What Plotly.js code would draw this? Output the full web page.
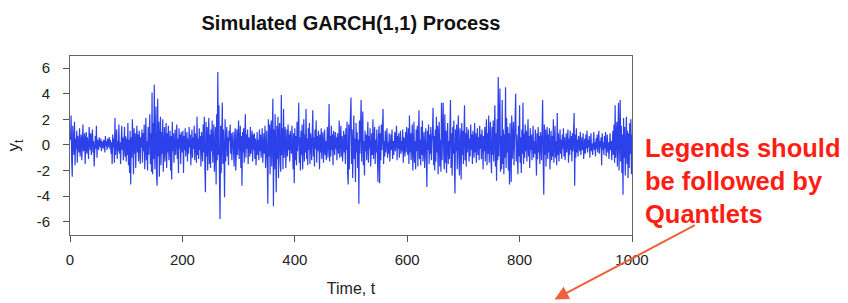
<!DOCTYPE html>
<html>
<head>
<meta charset="utf-8">
<script src="https://cdn.plot.ly/plotly-3.0.1.min.js"></script>
<style>html,body{margin:0;padding:0;background:#fff;}#chart{width:848px;height:303px;}</style>
</head>
<body>
<div id="chart"></div>
<script>
// Simulated GARCH(1,1) series y_t, t = 1..1000 (values read/estimated from the picture)
var yValues = [
0.4,2.3,-1.2,-2.5,1.5,0.2,-0.8,1.8,-1.6,0.5,
-0.3,1.1,-1.4,0.7,0.2,-0.6,1.3,-0.9,0.1,0.8,
-1.2,0.4,1.6,-0.5,-0.2,0.9,-1.5,0.3,1.0,-0.7,
0.6,-0.1,-1.1,1.4,0.2,-0.4,0.9,-0.8,0.5,1.2,
-0.6,0.3,-1.7,0.1,0.7,-0.3,1.5,-1.0,0.4,0.2,
-0.4,0.6,0.1,-0.2,0.5,-0.5,0.3,0.0,-0.3,0.4,
0.2,-0.6,0.7,-0.1,0.3,-0.4,0.5,-0.2,0.1,0.6,
-0.3,0.4,-0.7,0.2,-1.5,0.8,-0.2,0.5,-1.4,2.1,
-0.8,0.4,1.2,-1.1,0.3,-0.5,1.6,-0.7,0.2,-1.5,
0.9,1.5,-0.4,0.6,-1.2,0.3,1.4,-0.9,0.7,-1.3,
0.5,-0.8,1.7,-1.6,0.4,-2.2,1.1,-3.1,0.6,-1.0,
2.0,0.3,-2.3,1.3,-0.7,0.9,-1.8,0.2,1.5,-0.6,
0.8,-1.3,1.1,0.4,-1.5,0.6,-0.2,1.2,-1.4,0.9,
-0.5,1.6,-1.9,0.7,2.1,-1.2,0.3,-2.0,1.4,-0.8,
0.6,2.4,-1.5,0.9,-2.1,4.1,-2.3,1.7,-1.1,4.7,
-1.9,0.8,3.0,-2.4,-3.2,3.6,-0.9,1.8,-2.5,0.4,
2.2,-1.6,1.0,-0.7,2.0,-2.1,0.5,1.4,-1.3,0.2,
1.7,-1.8,0.9,-0.6,1.5,-1.2,0.3,1.1,-2.0,0.7,
-2.7,1.8,-0.5,0.9,-1.4,0.6,1.2,-0.8,0.4,1.6,
-1.1,0.5,-2.2,1.3,-0.3,0.8,-1.5,1.0,-0.6,0.3,
1.1,-2.2,0.7,-0.4,1.3,-0.9,0.2,1.0,-1.3,0.5,
-0.7,1.4,-0.2,0.8,-1.6,0.4,1.2,-1.0,0.6,-0.3,
1.5,-1.2,0.9,0.3,-1.4,2.2,-0.8,0.5,-1.1,1.3,
-0.4,0.7,-1.7,1.0,0.2,-1.3,1.6,-0.6,2.2,-1.9,
-3.7,1.8,-0.9,1.4,-2.0,0.6,2.1,-1.5,0.8,-1.8,
1.2,-0.5,1.9,-1.4,0.3,1.6,-2.1,0.9,1.4,-3.1,
2.4,-1.2,5.7,-0.8,3.1,-2.6,-5.8,1.5,-2.2,0.7,
3.3,-1.5,1.2,-0.6,-4.1,2.0,-1.3,0.5,1.4,-0.9,
0.6,-1.6,1.1,0.3,1.6,-0.7,0.9,-1.2,0.4,1.0,
-0.5,-1.7,0.8,1.3,-2.0,0.2,1.2,-0.8,0.6,1.9,
-1.1,0.4,1.5,-1.8,0.7,-3.2,1.0,-0.6,1.3,-1.4,
0.5,2.4,-1.0,0.8,-0.3,1.2,-1.5,0.6,0.2,-0.9,
1.4,-0.7,0.3,1.1,-1.3,0.8,-0.4,0.9,-1.1,0.5,
-1.6,0.7,1.0,-0.8,0.4,-1.2,1.2,-0.5,0.8,-1.0,
0.6,1.3,-1.4,0.2,0.9,-0.7,1.5,-1.8,0.4,1.1,
-1.2,-4.6,2.0,-0.9,1.6,-2.3,0.8,1.9,-1.7,0.5,
3.6,-4.8,1.2,-1.9,2.4,-0.7,-3.7,1.5,-1.1,2.2,
-2.6,0.9,1.7,-1.4,-2.1,3.9,-0.8,1.3,-1.9,2.8,
-1.0,0.6,1.4,-1.8,0.3,1.2,-0.9,1.6,-0.4,0.8,
-1.3,1.1,0.2,-0.7,1.5,0.4,-1.9,0.9,-3.0,1.3,
-1.2,0.7,-1.6,1.8,-0.5,0.9,3.3,-1.4,0.6,-2.0,
1.1,-0.8,1.6,-1.9,0.4,2.0,-1.3,0.8,-0.6,2.8,
-1.1,0.5,-1.6,1.3,-0.4,1.7,-1.5,0.9,0.3,-1.2,
1.4,2.7,-0.9,0.6,-1.7,1.2,-0.3,1.9,-1.4,0.7,
-0.5,1.1,0.4,-1.9,0.8,-0.6,1.3,-1.1,0.5,1.0,
-1.4,0.6,1.2,-0.8,0.3,-1.2,0.9,1.4,-1.0,0.2,
3.2,-1.3,0.7,-0.9,1.5,-0.4,0.8,-1.6,1.1,0.3,
-0.8,1.0,-0.3,0.6,-1.2,0.9,0.2,-0.7,1.9,-1.0,
0.4,1.5,-0.9,0.7,-1.3,0.3,1.1,-0.6,0.8,-1.5,
1.3,-0.4,1.8,-2.2,-3.1,1.6,-1.9,0.8,2.4,3.7,
-1.5,1.2,-2.6,0.8,2.3,-1.1,0.5,-2.9,1.7,-0.6,
1.0,-1.8,0.4,-4.6,1.9,-0.7,0.9,3.5,-1.3,0.6,
2.6,-1.6,0.3,-2.4,1.1,-0.5,0.8,-1.2,0.2,1.8,
-1.4,0.7,-0.3,1.3,-1.7,0.5,0.9,-0.8,2.0,-1.1,
0.6,1.4,-1.5,0.4,-0.6,1.2,-1.0,-2.9,0.7,1.5,
-3.0,0.9,-1.2,1.6,-0.4,0.8,2.8,-1.5,0.3,-0.9,
1.1,-0.6,0.4,1.3,-1.0,0.2,-0.7,0.9,-1.3,0.5,
0.8,-0.4,1.2,-1.1,0.3,-0.8,0.6,1.0,-0.5,0.2,
1.5,-1.2,0.7,-0.3,0.9,-1.0,0.4,1.1,-0.7,0.3,
-0.5,1.2,-1.4,0.6,0.1,-0.9,1.0,-0.6,1.4,0.2,
-0.8,1.3,-1.5,2.3,-0.6,0.9,-1.2,0.4,1.6,-2.0,
0.7,1.8,-1.4,0.3,-1.9,1.2,-0.5,1.5,-1.7,0.6,
2.7,-1.1,0.4,-1.6,1.4,-0.8,1.9,-1.3,0.5,1.0,
-1.8,0.6,1.3,-0.9,-3.3,1.1,-0.4,1.6,-1.5,0.8,
-0.7,1.4,-1.2,0.3,1.0,2.9,-1.6,0.7,-2.0,1.2,
-1.3,2.2,-0.6,1.5,-2.3,0.8,1.8,-1.7,0.4,-2.1,
3.3,-1.2,0.9,3.3,-0.8,-1.9,2.4,-1.4,1.1,-2.2,
0.6,1.7,-1.5,0.3,-1.1,2.0,3.5,-1.8,0.9,-2.4,
1.4,-0.7,1.9,-1.6,-3.8,1.2,-0.5,1.6,-1.9,0.4,
2.3,-1.0,-2.4,1.3,0.5,-2.7,1.7,-0.8,1.1,-1.5,
0.7,3.1,-1.2,0.9,-1.7,1.4,-0.6,0.3,1.2,-1.3,
0.5,-0.9,1.6,-0.4,0.8,-1.5,1.1,0.2,-1.0,1.7,
-0.6,0.9,-1.4,0.4,1.3,-0.8,0.6,-1.2,1.5,-0.3,
0.8,-1.1,1.2,0.3,-1.9,0.7,-0.5,1.4,-1.3,0.6,
2.0,-1.6,0.9,-0.7,2.3,-1.4,0.5,1.8,-0.9,-2.2,
1.4,-0.8,1.9,-1.3,0.6,3.1,-1.7,0.9,-2.8,2.0,
-1.2,5.3,-0.9,1.5,4.4,-2.1,0.7,-1.9,3.5,-1.5,
1.2,-2.3,0.8,-1.0,4.5,-1.8,2.1,-0.6,1.4,-2.0,
0.9,-3.1,1.7,-0.8,-2.9,2.3,-1.1,0.5,1.8,-1.6,
0.7,2.6,4.0,-1.3,0.8,-0.5,-2.3,1.5,-0.9,3.1,
-1.4,0.6,-2.2,1.2,-0.7,3.3,-1.5,0.9,-1.0,1.6,
-0.5,1.1,-1.3,0.4,2.0,-0.9,0.7,-1.8,1.3,-0.4,
0.8,-1.2,0.5,1.5,-1.0,0.3,-0.7,1.2,-0.5,-2.4,
0.9,-1.1,1.4,-0.6,0.7,-1.5,1.0,0.4,-1.2,1.9,
3.5,-1.3,-3.9,1.6,-0.8,1.2,-1.7,0.5,1.4,-1.1,
0.8,-0.6,1.3,-1.9,0.4,1.1,-1.2,0.7,-0.9,2.0,
-1.4,0.6,1.5,-1.0,0.3,-1.6,2.5,-0.8,0.9,-1.3,
0.5,1.2,-0.7,0.4,-1.1,0.8,-0.3,1.3,-0.9,0.6,
-1.2,0.2,0.9,-0.6,1.0,1.2,-1.4,0.5,-0.8,1.1,
-0.4,0.7,-1.3,0.9,-0.5,1.6,2.5,-3.2,0.8,-1.0,
1.3,-0.6,0.4,-0.9,0.7,0.2,-0.5,1.0,-0.8,0.3,
0.6,-0.4,0.9,-1.1,0.2,0.5,-0.7,0.8,-0.3,1.1,
-0.6,0.4,-0.2,0.7,-1.0,0.3,0.9,-0.5,0.1,-0.8,
0.6,1.0,-0.4,0.2,-0.9,0.5,-0.3,0.8,-0.6,0.4,
1.1,-0.7,0.3,-0.2,0.6,-1.6,0.9,-0.4,0.2,-0.8,
0.7,-0.3,1.0,-0.9,0.4,0.8,-0.6,0.2,-1.1,0.5,
0.9,-0.4,0.3,-1.2,0.7,1.1,-0.8,1.6,-1.4,3.1,
-1.0,0.6,1.8,-1.7,0.9,3.3,-2.0,0.4,3.5,-1.3,
1.5,-2.2,0.8,-3.9,2.1,-1.0,1.4,-2.4,0.6,2.2,
-1.5,1.1,-2.6,0.9,-1.8,1.7,-0.7,2.0,-2.3,0.8
];
var xTickVals = [0, 200, 400, 600, 800, 1000];
var yTickVals = [-6, -4, -2, 0, 2, 4, 6];
var titleText = 'Simulated GARCH(1,1) Process';
var xTitleText = 'Time, t';
var yTitleText = 'y<sub>t</sub>';
var noteText = 'Legends should<br>be followed by<br>Quantlets';

var tValues = yValues.map(function (v, i) { return i + 1; });

var trace = {
  x: tValues,
  y: yValues,
  type: 'scatter',
  mode: 'lines',
  line: {color: 'rgb(45,65,235)', width: 1.2},
  hoverinfo: 'skip'
};

var fontFam = '"Liberation Sans", Arial, Helvetica, sans-serif';

var layout = {
  width: 848,
  height: 303,
  margin: {l: 70, r: 216, t: 56, b: 68, pad: 0},
  paper_bgcolor: '#ffffff',
  plot_bgcolor: '#ffffff',
  showlegend: false,
  font: {family: fontFam, color: '#222222', size: 15},
  title: {
    text: '<b>' + titleText + '</b>',
    font: {family: fontFam, size: 20, color: '#111111'},
    x: 0.5, xanchor: 'center', xref: 'paper',
    y: 0.925, yanchor: 'middle'
  },
  xaxis: {
    range: [0, 1000],
    tickvals: xTickVals,
    ticktext: xTickVals.map(String),
    ticks: 'outside', ticklen: 6, tickcolor: '#555555', tickwidth: 1,
    showline: true, linecolor: '#666666', linewidth: 1, mirror: true,
    showgrid: false, zeroline: false,
    tickfont: {family: fontFam, size: 15, color: '#222222'},
    ticklabelstandoff: 5,
    title: {text: xTitleText, font: {family: fontFam, size: 16, color: '#222222'}, standoff: 15}
  },
  yaxis: {
    range: [-7.05, 6.95],
    tickvals: yTickVals,
    ticktext: yTickVals.map(String),
    ticks: 'outside', ticklen: 6, tickcolor: '#555555', tickwidth: 1,
    showline: true, linecolor: '#666666', linewidth: 1, mirror: true,
    showgrid: false, zeroline: false,
    tickfont: {family: fontFam, size: 15, color: '#222222'},
    ticklabelstandoff: 10,
    title: {text: yTitleText, font: {family: fontFam, size: 17, color: '#222222'}, standoff: 12}
  },
  annotations: [
    {
      text: '<b>' + noteText + '</b>',
      xref: 'paper', yref: 'paper',
      x: 1.02, y: 0.575, xanchor: 'left', yanchor: 'top',
      align: 'left', showarrow: false,
      font: {family: fontFam, size: 25.5, color: '#ff1e14'}
    },
    {
      text: '',
      xref: 'paper', yref: 'paper',
      x: 0.862, y: -0.36,
      showarrow: true, arrowhead: 2, arrowsize: 1.4, arrowwidth: 2,
      arrowcolor: '#f0603a', ax: 142, ay: -75, axref: 'pixel', ayref: 'pixel'
    }
  ]
};

Plotly.newPlot('chart', [trace], layout, {displayModeBar: false, staticPlot: true});
</script>
</body>
</html>
